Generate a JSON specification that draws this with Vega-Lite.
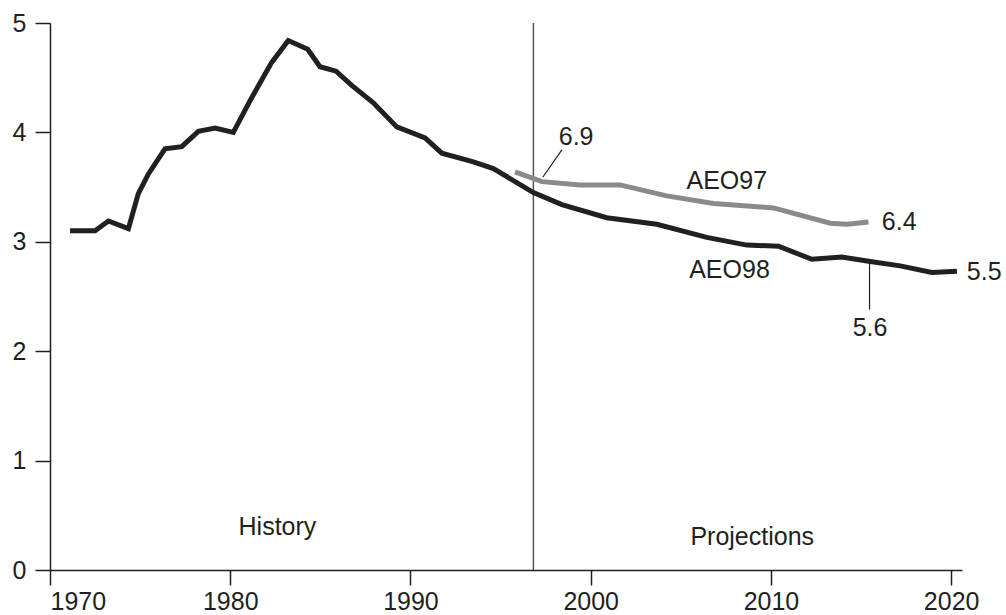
{
  "$schema": "https://vega.github.io/schema/vega-lite/v6.json",
  "autosize": "none",
  "width": 912,
  "height": 547,
  "padding": {"left": 50, "top": 23, "right": 44, "bottom": 45},
  "background": "white",
  "config": {
    "view": {"stroke": null},
    "font": "Liberation Sans",
    "axis": {"grid": false, "domainColor": "#231f20", "domainWidth": 1.5, "tickColor": "#231f20", "tickWidth": 1.5, "tickSize": 15, "labelFont": "Liberation Sans", "labelFontSize": 25, "labelColor": "#231f20", "title": null}
  },
  "datasets": {
    "lines": [
      {"series": "AEO98", "year": 1971.11, "value": 3.1},
      {"series": "AEO98", "year": 1972.5, "value": 3.1},
      {"series": "AEO98", "year": 1973.24, "value": 3.19},
      {"series": "AEO98", "year": 1974.35, "value": 3.12},
      {"series": "AEO98", "year": 1974.9, "value": 3.44},
      {"series": "AEO98", "year": 1975.46, "value": 3.62},
      {"series": "AEO98", "year": 1976.38, "value": 3.85},
      {"series": "AEO98", "year": 1977.31, "value": 3.87},
      {"series": "AEO98", "year": 1978.23, "value": 4.01},
      {"series": "AEO98", "year": 1979.16, "value": 4.04},
      {"series": "AEO98", "year": 1980.17, "value": 4.0},
      {"series": "AEO98", "year": 1981.1, "value": 4.29},
      {"series": "AEO98", "year": 1982.3, "value": 4.64},
      {"series": "AEO98", "year": 1983.22, "value": 4.84},
      {"series": "AEO98", "year": 1984.3, "value": 4.76},
      {"series": "AEO98", "year": 1984.98, "value": 4.6},
      {"series": "AEO98", "year": 1985.87, "value": 4.56},
      {"series": "AEO98", "year": 1986.74, "value": 4.43},
      {"series": "AEO98", "year": 1987.94, "value": 4.27},
      {"series": "AEO98", "year": 1989.24, "value": 4.05},
      {"series": "AEO98", "year": 1990.81, "value": 3.95},
      {"series": "AEO98", "year": 1991.74, "value": 3.81},
      {"series": "AEO98", "year": 1993.49, "value": 3.73},
      {"series": "AEO98", "year": 1994.6, "value": 3.67},
      {"series": "AEO98", "year": 1996.82, "value": 3.45},
      {"series": "AEO98", "year": 1998.4, "value": 3.34},
      {"series": "AEO98", "year": 2000.89, "value": 3.22},
      {"series": "AEO98", "year": 2003.67, "value": 3.16},
      {"series": "AEO98", "year": 2006.44, "value": 3.04},
      {"series": "AEO98", "year": 2008.66, "value": 2.97},
      {"series": "AEO98", "year": 2010.42, "value": 2.96},
      {"series": "AEO98", "year": 2012.27, "value": 2.84},
      {"series": "AEO98", "year": 2013.93, "value": 2.86},
      {"series": "AEO98", "year": 2015.51, "value": 2.82},
      {"series": "AEO98", "year": 2017.17, "value": 2.78},
      {"series": "AEO98", "year": 2018.93, "value": 2.72},
      {"series": "AEO98", "year": 2020.32, "value": 2.73},
      {"series": "AEO97", "year": 1995.8, "value": 3.64},
      {"series": "AEO97", "year": 1997.29, "value": 3.55},
      {"series": "AEO97", "year": 1999.41, "value": 3.52},
      {"series": "AEO97", "year": 2001.63, "value": 3.52},
      {"series": "AEO97", "year": 2004.22, "value": 3.42},
      {"series": "AEO97", "year": 2006.81, "value": 3.35},
      {"series": "AEO97", "year": 2010.14, "value": 3.31},
      {"series": "AEO97", "year": 2013.29, "value": 3.17},
      {"series": "AEO97", "year": 2014.21, "value": 3.16},
      {"series": "AEO97", "year": 2015.41, "value": 3.18}
    ],
    "labels": [
      {"label": "6.9", "year": 1999.19, "value": 3.96},
      {"label": "AEO97", "year": 2007.55, "value": 3.56},
      {"label": "AEO98", "year": 2007.7, "value": 2.74},
      {"label": "5.6", "year": 2015.5, "value": 2.21},
      {"label": "History", "year": 1982.62, "value": 0.39},
      {"label": "Projections", "year": 2008.96, "value": 0.3}
    ],
    "leftlabels": [
      {"label": "6.4", "year": 2016.15, "value": 3.18},
      {"label": "5.5", "year": 2020.87, "value": 2.72}
    ],
    "leaders": [
      {"year": 1998.4, "value": 3.84, "year2": 1997.34, "value2": 3.59},
      {"year": 2015.47, "value": 2.82, "year2": 2015.47, "value2": 2.38}
    ],
    "divider": [
      {"year": 1996.82, "value": 0, "value2": 5}
    ]
  },
  "layer": [
    {
      "data": {"name": "divider"},
      "mark": {"type": "rule", "color": "#555555", "strokeWidth": 1.5},
      "encoding": {
        "x": {"field": "year", "type": "quantitative", "scale": {"domain": [1970, 2020.6], "nice": false, "zero": false}, "axis": {"values": [1970, 1980, 1990, 2000, 2010, 2020], "format": "d", "labelPadding": 4, "tickSize": 15}},
        "y": {"field": "value", "type": "quantitative", "scale": {"domain": [0, 5], "nice": false}, "axis": {"values": [0, 1, 2, 3, 4, 5], "format": "d", "labelPadding": 9, "tickSize": 15}},
        "y2": {"field": "value2"}
      }
    },
    {
      "data": {"name": "lines"},
      "mark": {"type": "line", "strokeWidth": 5, "strokeCap": "butt", "strokeJoin": "miter"},
      "encoding": {
        "x": {"field": "year", "type": "quantitative"},
        "y": {"field": "value", "type": "quantitative"},
        "color": {"field": "series", "type": "nominal", "scale": {"domain": ["AEO97", "AEO98"], "range": ["#8a8a8a", "#231f20"]}, "legend": null},
        "order": {"field": "year", "type": "quantitative"}
      }
    },
    {
      "data": {"name": "leaders"},
      "mark": {"type": "rule", "color": "#231f20", "strokeWidth": 1.2},
      "encoding": {
        "x": {"field": "year", "type": "quantitative"},
        "y": {"field": "value", "type": "quantitative"},
        "x2": {"field": "year2"},
        "y2": {"field": "value2"}
      }
    },
    {
      "data": {"name": "labels"},
      "mark": {"type": "text", "fontSize": 25, "font": "Liberation Sans", "color": "#231f20", "baseline": "middle", "align": "center", "clip": false},
      "encoding": {
        "x": {"field": "year", "type": "quantitative"},
        "y": {"field": "value", "type": "quantitative"},
        "text": {"field": "label"}
      }
    },
    {
      "data": {"name": "leftlabels"},
      "mark": {"type": "text", "fontSize": 25, "font": "Liberation Sans", "color": "#231f20", "baseline": "middle", "align": "left", "clip": false},
      "encoding": {
        "x": {"field": "year", "type": "quantitative"},
        "y": {"field": "value", "type": "quantitative"},
        "text": {"field": "label"}
      }
    }
  ]
}
